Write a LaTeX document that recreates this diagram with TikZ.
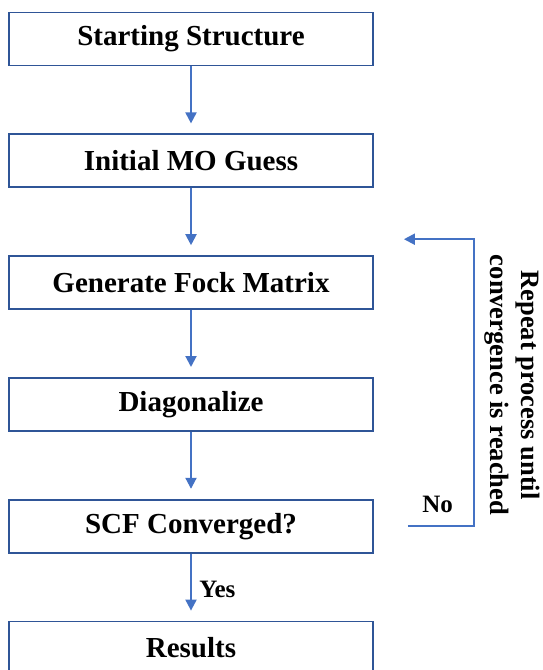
\documentclass[tikz,border=0pt]{standalone}
\usepackage{fontspec}
\setmainfont{Liberation Serif}
\usetikzlibrary{arrows.meta, positioning}
\definecolor{boxBlue}{HTML}{2F5597}
\definecolor{arrowBlue}{HTML}{4472C4}
\tikzset{
    stepBox/.style={
        rectangle,
        draw=boxBlue,
        fill=white,
        line width=1.8pt,
        inner sep=0pt,
        minimum width=364pt,
        minimum height=53pt,
        font=\fontsize{29}{33}\selectfont\bfseries
    },
    flowLabel/.style={
        text=black,
        font=\fontsize{25}{29}\selectfont\bfseries
    }
}

\begin{document}
\begin{tikzpicture}[x=1pt, y=1pt, node distance=67pt,
        >={Triangle[length=11pt, width=11pt]}]
            \useasboundingbox (0,0) rectangle (543,-670);
            \clip (0,0) rectangle (543,-670);

            % Steps
            \node[stepBox] (start) at (191,-39) {Starting Structure};
            \node[stepBox, below=of start] (guess) {Initial MO Guess};
            \node[stepBox, below=of guess] (fock) {Generate Fock Matrix};
            \node[stepBox, below=of fock] (diag) {Diagonalize};
            \node[stepBox, below=of diag] (scf) {SCF Converged?};
            \node[stepBox, below=of scf] (results) {Results};

            % Flow arrows
            \draw[->, arrowBlue, line width=2pt, shorten >=10pt] (start) -- (guess);
            \draw[->, arrowBlue, line width=2pt, shorten >=10pt] (guess) -- (fock);
            \draw[->, arrowBlue, line width=2pt, shorten >=10pt] (fock) -- (diag);
            \draw[->, arrowBlue, line width=2pt, shorten >=10pt] (diag) -- (scf);
            \draw[->, arrowBlue, line width=2pt, shorten >=10pt] (scf) -- (results)
                node[flowLabel, midway, right=4pt, yshift=-2pt] (yes) {Yes};

            % Loop back
            \coordinate[right=34pt of scf.east] (loopStart);
            \coordinate[right=66pt of loopStart] (loopCorner);
            \coordinate[above right=16pt and 30pt of fock.north east] (loopEnd);
            \draw[->, arrowBlue, line width=2pt] (loopStart) -- (loopCorner)
                node[flowLabel, pos=0.45, above=9pt] (no) {No}
                |- (loopEnd);

            % Side note
            \node[font=\fontsize{26.5}{31}\selectfont\bfseries, align=center, rotate=-90]
                (repeatNote) at (512,-385) {Repeat process until\\convergence is reached};
        \end{tikzpicture}
\end{document}
